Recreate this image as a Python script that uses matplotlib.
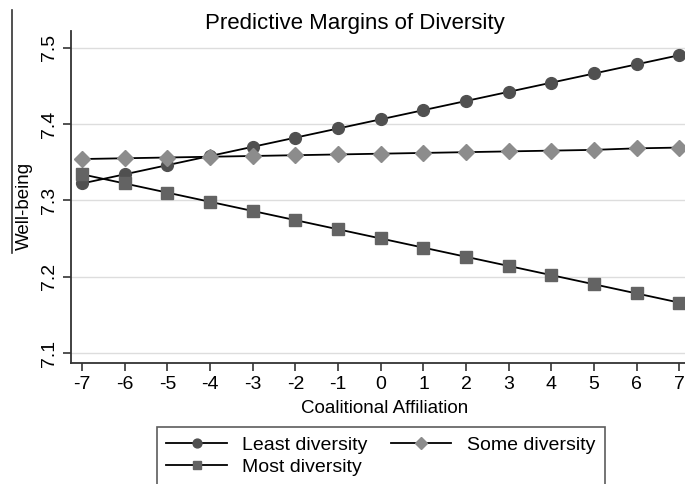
import numpy as np
import matplotlib.pyplot as plt

plt.rcParams['font.family'] = ['Liberation Sans', 'DejaVu Sans']

affiliation = [-7, -6, -5, -4, -3, -2, -1, 0, 1, 2, 3, 4, 5, 6, 7]
least = [7.322, 7.334, 7.346, 7.358, 7.370, 7.382, 7.394, 7.406, 7.418, 7.430, 7.442, 7.454, 7.466, 7.478, 7.490]
some = [7.354, 7.355, 7.356, 7.357, 7.358, 7.359, 7.360, 7.361, 7.362, 7.363, 7.364, 7.365, 7.366, 7.368, 7.369]
most = [7.334, 7.322, 7.310, 7.298, 7.286, 7.274, 7.262, 7.250, 7.238, 7.226, 7.214, 7.202, 7.190, 7.178, 7.166]
yticks = [7.1, 7.2, 7.3, 7.4, 7.5]

fig = plt.figure(figsize=(6.85, 4.84), dpi=100)
ax = fig.add_axes([0.1036, 0.25, 0.8964 + 0.02, 0.685])

ax.plot(affiliation, least, color='black', lw=1.3, marker='o', ms=8.5,
        mfc='#505050', mec='#505050', label='Least diversity', zorder=3)
ax.plot(affiliation, some, color='black', lw=1.3, marker='D', ms=8.5,
        mfc='#8c8c8c', mec='#8c8c8c', label='Some diversity', zorder=3)
ax.plot(affiliation, most, color='black', lw=1.3, marker='s', ms=8.5,
        mfc='#636363', mec='#636363', label='Most diversity', zorder=3)

ax.set_xlim(-7.26, 7.45)
ax.set_ylim(7.087, 7.521)
ax.set_xticks(affiliation)
ax.set_xticklabels([str(v) for v in affiliation])
ax.set_yticks(yticks)
ax.set_yticklabels([str(v) for v in yticks], rotation=90, va='center')
ax.tick_params(labelsize=14, color='#333333', length=6, width=1.2)
ax.grid(axis='y', color='#dddddd', lw=1)
ax.set_axisbelow(True)
for s in ['top', 'right']:
    ax.spines[s].set_visible(False)
for s in ['left', 'bottom']:
    ax.spines[s].set_color('#333333')
    ax.spines[s].set_linewidth(1.3)

ax.set_xlabel('Coalitional Affiliation', fontsize=13.5, labelpad=5)
fig.text(0.518, 0.952, 'Predictive Margins of Diversity', ha='center', va='center', fontsize=16)
fig.text(0.036, 0.575, 'Well-being', rotation=90, ha='center', va='center', fontsize=13.5)
fig.add_artist(plt.Line2D([0.018, 0.018], [0.477, 0.98], color='#333333', lw=1.2))

h, l = ax.get_legend_handles_labels()
leg = fig.legend([h[0], h[2], h[1]], [l[0], l[2], l[1]], ncol=2, loc='upper center',
                 bbox_to_anchor=(0.556, 0.118), fontsize=14, fancybox=False,
                 edgecolor='#333333', handlelength=3.1, columnspacing=1.2,
                 borderaxespad=0, labelspacing=0.2, borderpad=0.5, markerscale=0.75)
leg.get_frame().set_linewidth(1.2)

fig.savefig('out.png', dpi=100)
